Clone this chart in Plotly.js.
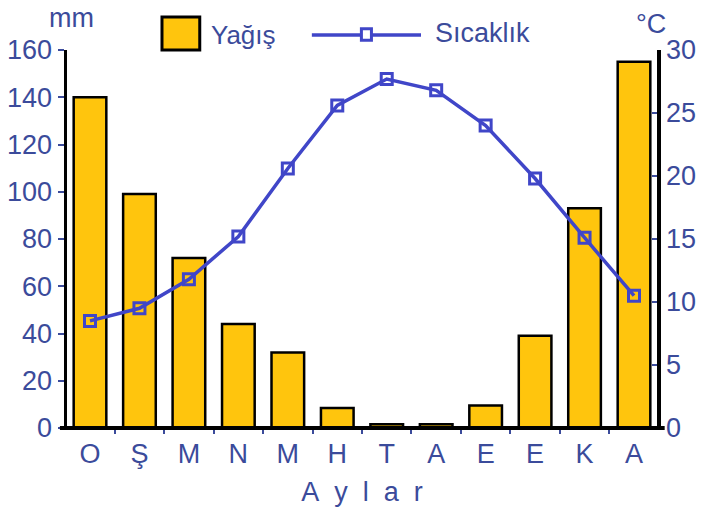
<!DOCTYPE html>
<html>
<head>
<meta charset="utf-8">
<script src="https://cdn.plot.ly/plotly-3.0.1.min.js"></script>
<style>
html,body{margin:0;padding:0;background:#fff;}
#chart{width:704px;height:509px;}
</style>
</head>
<body>
<div id="chart"></div>
<script>
var months = ["O", "Ş", "M", "N", "M", "H", "T", "A", "E", "E", "K", "A"];
var precipitation = [140, 99, 72, 44, 32, 8.5, 1.6, 1.6, 9.5, 39, 93, 155];
var temperature = [8.5, 9.5, 11.8, 15.2, 20.6, 25.6, 27.7, 26.8, 24.0, 19.8, 15.1, 10.5];
var leftTicks = [0, 20, 40, 60, 80, 100, 120, 140, 160];
var rightTicks = [0, 5, 10, 15, 20, 25, 30];

var idx = months.map(function (_, i) { return i; });
var txtColor = "#3b4b9b";
var lineColor = "#4046c8";
var barColor = "#ffc50d";
var FONT = "Liberation Sans, Arial, sans-serif";

var traces = [
  {
    type: "bar", x: idx, y: precipitation, name: "Yağış",
    width: 0.66,
    marker: { color: barColor, line: { color: "#000", width: 2.5 } },
    showlegend: false, hoverinfo: "skip"
  },
  {
    type: "scatter", mode: "lines+markers", x: idx, y: temperature, name: "Sıcaklık",
    yaxis: "y2",
    line: { color: lineColor, width: 3.5 },
    marker: { symbol: "square-open", size: 11, color: lineColor, line: { color: lineColor, width: 3 } },
    showlegend: false, hoverinfo: "skip"
  }
];

var layout = {
  width: 704, height: 509,
  margin: { l: 67, r: 47, t: 50, b: 81 },
  paper_bgcolor: "#fff", plot_bgcolor: "#fff",
  font: { family: FONT, color: txtColor, size: 27 },
  showlegend: false,
  bargap: 0.3,
  xaxis: {
    range: [-0.465, 11.465],
    tickmode: "array", tickvals: idx, ticktext: months,
    ticks: "", showgrid: false, zeroline: false,
    showline: false,
    ticklabelstandoff: 7,
    tickfont: { size: 27, color: txtColor },
    minor: { tickmode: "linear", tick0: 0.5, dtick: 1, ticks: "outside", ticklen: 5, tickwidth: 2, tickcolor: txtColor, showgrid: false },
    title: { text: "A\u00a0\u00a0y\u00a0\u00a0l\u00a0\u00a0a\u00a0\u00a0r", font: { size: 27, color: txtColor }, standoff: 14 },
    fixedrange: true
  },
  yaxis: {
    range: [0, 160],
    tickmode: "array", tickvals: leftTicks,
    ticks: "outside", ticklen: 6, tickwidth: 2, tickcolor: txtColor,
    showgrid: false, zeroline: false,
    showline: true, linecolor: "#000", linewidth: 3.5,
    tickfont: { size: 27, color: txtColor },
    fixedrange: true
  },
  yaxis2: {
    range: [0, 30],
    overlaying: "y", side: "right",
    tickmode: "array", tickvals: rightTicks,
    ticks: "inside", ticklen: 5, tickwidth: 2, tickcolor: txtColor,
    showgrid: false, zeroline: false,
    showline: true, linecolor: "#000", linewidth: 3.5,
    tickfont: { size: 27, color: txtColor },
    fixedrange: true
  },
  shapes: [
    { type: "line", xref: "paper", yref: "paper", x0: -0.012, x1: 1.013, y0: 0, y1: 0,
      line: { color: "#000", width: 4 } },
    { type: "rect", xref: "paper", yref: "paper", x0: 0.161, x1: 0.225, y0: 1.0, y1: 1.087,
      fillcolor: barColor, line: { color: "#000", width: 3 } },
    { type: "line", xref: "paper", yref: "paper", x0: 0.415, x1: 0.6, y0: 1.04, y1: 1.04,
      line: { color: lineColor, width: 3.5 } },
    { type: "rect", xref: "paper", yref: "paper", x0: 0.499, x1: 0.516, y0: 1.026, y1: 1.056,
      fillcolor: "#fff", line: { color: lineColor, width: 3 } }
  ],
  annotations: [
    { text: "Yağış", xref: "paper", yref: "paper", x: 0.241, y: 1.04, xanchor: "left", yanchor: "middle",
      showarrow: false, font: { size: 26, color: txtColor } },
    { text: "Sıcaklık", xref: "paper", yref: "paper", x: 0.62, y: 1.045, xanchor: "left", yanchor: "middle",
      showarrow: false, font: { size: 27, color: txtColor } },
    { text: "mm", xref: "paper", yref: "paper", x: 0.007, y: 1.085, xanchor: "center", yanchor: "middle",
      showarrow: false, font: { size: 27, color: txtColor } },
    { text: "°C", xref: "paper", yref: "paper", x: 0.99, y: 1.07, xanchor: "center", yanchor: "middle",
      showarrow: false, font: { size: 27, color: txtColor } }
  ]
};

Plotly.newPlot("chart", traces, layout, { staticPlot: true, displayModeBar: false });
</script>
</body>
</html>
